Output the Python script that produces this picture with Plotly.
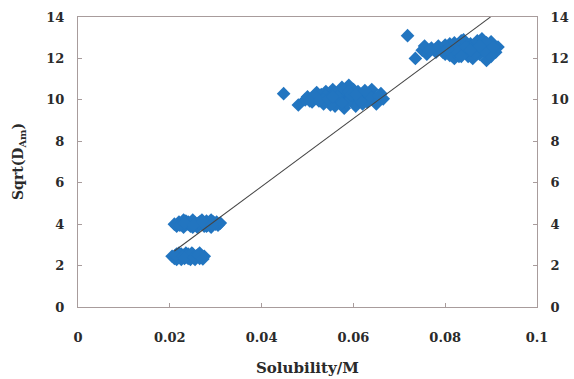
import plotly.graph_objects as go

# ---- data ----
xA = [0.0205,0.021,0.0215,0.022,0.0225,0.023,0.0235,0.024,0.0245,0.025,0.0255,0.026,0.0265,0.027,0.0275,
      0.0215,0.0225,0.0235,0.0245,0.0255,0.0265,0.022,0.024,0.026,
      0.0212,0.0228,0.0238,0.0248,0.0258,0.0268,0.0232,0.0252,0.0262,0.0272]
yA = [2.45,2.35,2.55,2.4,2.3,2.5,2.6,2.35,2.45,2.55,2.3,2.45,2.6,2.4,2.45,
      2.3,2.55,2.4,2.3,2.45,2.35,2.6,2.55,2.5,
      2.5,2.42,2.48,2.6,2.42,2.5,2.35,2.38,2.52,2.32]

xB = [0.021,0.0215,0.022,0.0225,0.023,0.0235,0.024,0.0245,0.025,0.0255,0.026,0.0265,0.027,0.0275,0.028,0.0285,0.029,0.0295,0.030,0.0305,0.031,
      0.023,0.025,0.027,0.029,0.024,0.026,0.028,
      0.0222,0.0242,0.0262,0.0282,0.0302,0.0232,0.0252,0.0272,0.0292]
yB = [4.0,3.9,4.1,4.0,3.85,4.15,4.0,3.9,4.2,4.05,3.85,4.1,4.0,3.9,4.15,4.0,3.85,4.1,4.0,3.95,4.05,
      4.2,3.85,4.2,4.2,4.1,3.95,3.9,
      3.95,4.05,4.05,3.95,4.1,4.05,3.95,4.1,4.0]

xC = [0.0448,0.048,0.0495,0.05,0.051,0.052,0.053,0.0535,0.054,0.055,0.0555,0.056,0.057,0.0575,0.058,0.0585,0.059,0.06,0.0605,0.061,0.062,0.063,0.064,0.0645,0.065,0.066,0.0665,
      0.052,0.054,0.056,0.058,0.06,0.062,0.055,0.057,0.059,0.061,0.063,0.0515,0.0535,
      0.0505,0.0525,0.0545,0.0565,0.0585,0.0595,0.0615,0.0635,0.0655,0.0575,0.0555,0.0605,0.0625]
yC = [10.3,9.75,10.0,10.15,9.9,10.1,10.25,9.8,10.4,10.0,10.5,9.7,10.3,10.6,9.6,10.2,10.7,10.0,9.7,10.4,10.2,9.9,10.5,10.1,9.8,10.3,10.05,
      10.35,10.2,10.35,10.5,10.5,9.8,9.75,10.0,10.4,10.1,10.3,10.2,10.0,
      9.95,9.95,10.05,10.15,9.85,10.25,9.95,10.2,10.2,9.85,10.15,10.25,10.45]

xD = [0.0718,0.0735,0.075,0.0755,0.076,0.077,0.078,0.0785,0.079,0.08,0.081,0.0815,0.082,0.083,0.0835,0.084,0.085,0.0855,0.086,0.087,0.0875,0.088,0.089,0.0895,0.09,0.091,0.0915,
      0.08,0.082,0.084,0.086,0.088,0.09,0.078,0.081,0.085,0.087,0.083,0.089,
      0.0765,0.0795,0.0825,0.0845,0.0865,0.0885,0.0905,0.0805,0.0835,0.0855,0.0875]
yD = [13.1,12.0,12.4,12.6,12.2,12.5,12.3,12.6,12.45,12.2,12.7,12.4,12.0,12.6,12.85,12.3,12.1,12.7,12.5,12.85,12.2,12.6,11.9,12.4,12.8,12.3,12.55,
      12.65,12.75,12.9,12.0,12.95,12.1,12.45,12.15,12.5,12.35,12.1,12.75,
      12.4,12.3,12.35,12.55,12.25,12.35,12.55,12.45,12.1,12.4,12.6]

fit_slope = 164.0
fit_intercept = -0.74
fit_x = [0.021, 0.0899]

x_ticks = [0, 0.02, 0.04, 0.06, 0.08, 0.1]
x_tick_labels = ["0", "0.02", "0.04", "0.06", "0.08", "0.1"]
y_ticks = [0, 2, 4, 6, 8, 10, 12, 14]
x_title = "Solubility/M"
y_title = "Sqrt(D<sub>Am</sub>)"

# ---- figure ----
xs = xA + xB + xC + xD
ys = yA + yB + yC + yD
fit_y = [fit_slope * v + fit_intercept for v in fit_x]

MARK = "#2275c0"
FRAME = "#a89c9c"
TXT = "#2a2a2a"
FONT = "DejaVu Serif"

fig = go.Figure()
fig.add_trace(go.Scatter(x=xs, y=ys, mode="markers",
                         marker=dict(symbol="diamond", size=10.5, color=MARK,
                                     line=dict(width=0)),
                         showlegend=False, hoverinfo="skip"))
fig.add_trace(go.Scatter(x=fit_x, y=fit_y, mode="lines", yaxis="y2",
                         line=dict(color="#454545", width=1.1),
                         showlegend=False, hoverinfo="skip"))

tickfont = dict(family=FONT, size=13, color=TXT, weight="bold")
common_y = dict(range=[0, 14], tickvals=y_ticks, showgrid=False, zeroline=False,
                showline=True, linecolor=FRAME, linewidth=1,
                ticks="inside", ticklen=4, tickcolor=FRAME,
                tickfont=tickfont, ticklabelstandoff=10, automargin=False)

fig.update_layout(
    width=574, height=379,
    margin=dict(l=78, r=37, t=17, b=72),
    paper_bgcolor="white", plot_bgcolor="white",
    xaxis=dict(range=[0, 0.1], tickvals=x_ticks, ticktext=x_tick_labels,
               showgrid=False, zeroline=False, showline=True, mirror=True,
               linecolor=FRAME, linewidth=1, ticks="inside", ticklen=4,
               tickcolor=FRAME, tickfont=tickfont, ticklabelstandoff=18,
               automargin=False),
    yaxis=dict(**common_y),
    yaxis2=dict(**common_y, overlaying="y", side="right", matches="y"),
    annotations=[
        dict(text=x_title, xref="paper", yref="paper", x=0.5, y=0,
             xanchor="center", yanchor="middle", yshift=-61, showarrow=False,
             font=dict(family=FONT, size=15, color=TXT, weight="bold")),
        dict(text=y_title, xref="paper", yref="paper", x=0, y=0.5,
             xanchor="center", yanchor="middle", xshift=-59, textangle=-90,
             showarrow=False,
             font=dict(family=FONT, size=14, color=TXT, weight="bold")),
    ],
)

fig.write_html("out.html")
